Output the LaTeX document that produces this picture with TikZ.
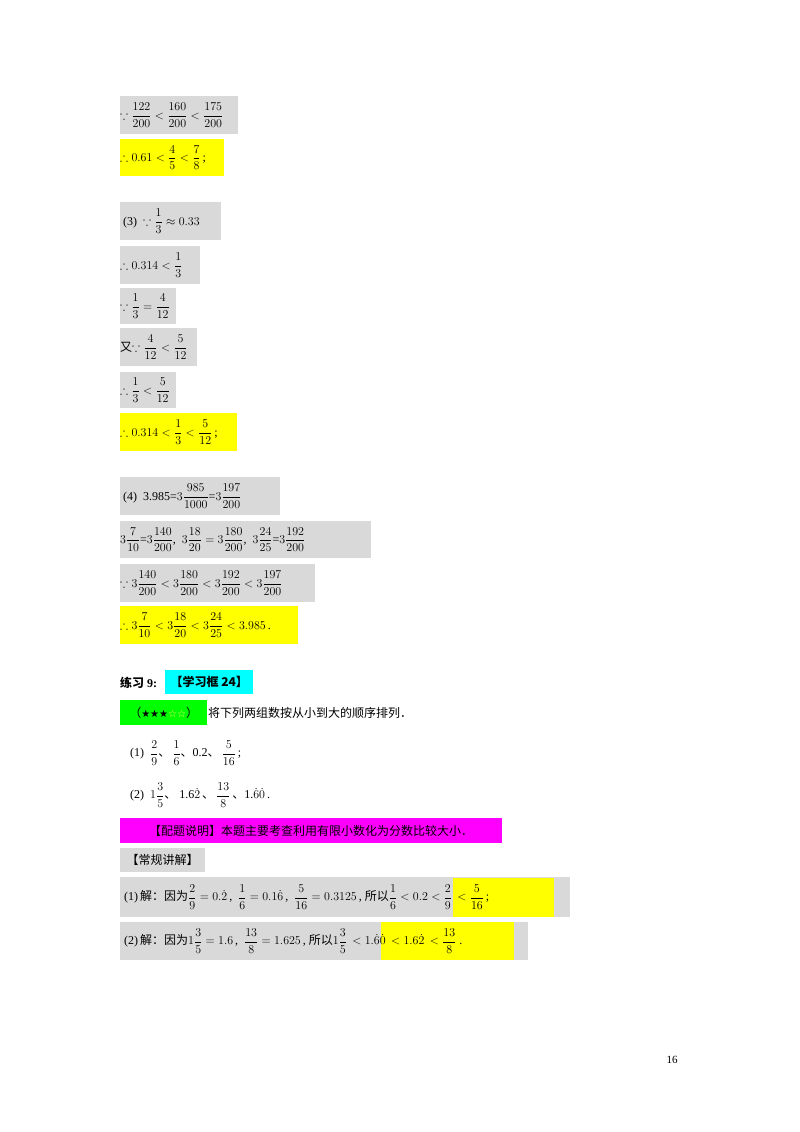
\documentclass[tikz,border=0pt]{standalone}
\usepackage{amsmath,amssymb}
\usepackage{fontspec}
\setmainfont{Liberation Serif}
\newfontfamily\cjk{Noto Sans CJK SC}
\newfontfamily\djsans{DejaVu Sans}
\definecolor{gbox}{RGB}{217,217,217}
\definecolor{ybox}{RGB}{255,255,0}
\definecolor{cbox}{RGB}{0,255,255}
\definecolor{grbox}{RGB}{0,255,0}
\definecolor{mbox}{RGB}{255,0,255}
\newcommand\Wbox[1]{\makebox[#1pt][l]}
\begin{document}
\begin{tikzpicture}[x=1pt,y=-1pt,
  bx/.style={anchor=north west,inner sep=0pt,minimum height=38pt,font=\fontsize{12}{14}\selectfont},
  g/.style={bx,fill=gbox},yl/.style={bx,fill=ybox}]
\useasboundingbox (0,0) rectangle (800,1132);
\node[g] (r1) at (120,96) {\Wbox{118}{$\because\dfrac{122}{200}<\dfrac{160}{200}<\dfrac{175}{200}$}};
\node[yl,minimum height=37pt] (r2) at (120,139) {\Wbox{104}{$\therefore 0.61<\dfrac{4}{5}<\dfrac{7}{8}$\,;}};
\node[g] (r3) at (120,202) {\Wbox{101}{\ (3)\ \ $\because\dfrac{1}{3}\approx 0.33$}};
\node[g] (r4) at (120,246) {\Wbox{80}{$\therefore 0.314<\dfrac{1}{3}$}};
\node[g,minimum height=36pt] (r5) at (120,288) {\Wbox{56}{$\because\dfrac{1}{3}=\dfrac{4}{12}$}};
\node[g] (r6) at (120,328) {\Wbox{77}{{\cjk 又}$\because\dfrac{4}{12}<\dfrac{5}{12}$}};
\node[g,minimum height=36pt] (r7) at (120,372) {\Wbox{56}{$\therefore\dfrac{1}{3}<\dfrac{5}{12}$}};
\node[yl] (r8) at (120,413) {\Wbox{117}{$\therefore 0.314<\dfrac{1}{3}<\dfrac{5}{12}$\,;}};
\node[g] (r9) at (120,477) {\Wbox{160}{\ (4)\ \ 3.985=$3\dfrac{985}{1000}$=$3\dfrac{197}{200}$}};
\node[g,minimum height=37pt] (r10) at (120,521) {\Wbox{251}{$3\dfrac{7}{10}$=$3\dfrac{140}{200}$,\ \ $3\dfrac{18}{20}=3\dfrac{180}{200}$,\ \ $3\dfrac{24}{25}$=$3\dfrac{192}{200}$}};
\node[g] (r11) at (120,564) {\Wbox{195}{$\because 3\dfrac{140}{200}<3\dfrac{180}{200}<3\dfrac{192}{200}<3\dfrac{197}{200}$}};
\node[yl] (r12) at (120,606) {\Wbox{178}{$\therefore 3\dfrac{7}{10}<3\dfrac{18}{20}<3\dfrac{24}{25}<3.985$\,.}};
\node[anchor=west,inner sep=0pt,font=\fontsize{12}{14}\selectfont\bfseries] (t1) at (120,683) {{\cjk\bfseries 练习} 9:};
\node[anchor=north west,inner sep=0pt,fill=cbox,minimum width=88pt,minimum height=24pt,font=\cjk\bfseries\fontsize{12}{14}\selectfont] (t2) at (165,670) {【学习框 24】};
\node[anchor=north west,inner sep=0pt,fill=grbox,minimum width=87pt,minimum height=25pt,font=\fontsize{12}{14}\selectfont] (t3) at (120,700) {{\cjk（}{\djsans\fontsize{10}{12}\selectfont ★★★\textcolor{yellow!60!white}{☆☆}}{\cjk）}};
\node[anchor=west,inner sep=0pt,font=\cjk\fontsize{12}{14}\selectfont] (t4) at (208,713) {将下列两组数按从小到大的顺序排列．};
\node[anchor=west,inner sep=0pt,font=\fontsize{12}{14}\selectfont] (q1) at (130,753) {(1)\ \ $\dfrac{2}{9}${\cjk 、}\,$\dfrac{1}{6}${\cjk 、}0.2{\cjk 、}\,$\dfrac{5}{16}$\,;};
\node[anchor=west,inner sep=0pt,font=\fontsize{12}{14}\selectfont] (q2) at (130,795) {(2)\ \ $1\dfrac{3}{5}${\cjk 、}\ 1.6$\dot{2}$\,{\cjk 、}\,$\dfrac{13}{8}$\,{\cjk 、}1.$\dot{6}\dot{0}$\,.};
\node[anchor=north west,inner sep=0pt,fill=mbox,minimum width=382pt,minimum height=25pt,font=\cjk\fontsize{12}{14}\selectfont] (m1) at (120,818) {【配题说明】本题主要考查利用有限小数化为分数比较大小．};
\node[anchor=north west,inner sep=0pt,fill=gbox,minimum width=85pt,minimum height=24pt,font=\cjk\fontsize{12}{14}\selectfont] (m2) at (120,848) {【常规讲解】};
\fill[gbox] (120,877) rectangle (570,917);
\fill[ybox] (453,878) rectangle (554,917);
\node[anchor=west,inner sep=0pt,font=\fontsize{12}{14}\selectfont] (s1) at (122,897) {\,(1)\,{\cjk 解：因为}$\dfrac{2}{9}=0.\dot{2}$\,,\ \ $\dfrac{1}{6}=0.1\dot{6}$\,,\ \ $\dfrac{5}{16}=0.3125$\,,\ {\cjk 所以}$\dfrac{1}{6}<0.2<\dfrac{2}{9}\,<\dfrac{5}{16}$\,;};
\fill[gbox] (120,922) rectangle (528,960);
\fill[ybox] (381,922) rectangle (514,960);
\node[anchor=west,inner sep=0pt,font=\fontsize{12}{14}\selectfont] (s2) at (122,941) {\,(2)\,{\cjk 解：因为}$1\dfrac{3}{5}=1.6$\,,\ \ $\dfrac{13}{8}=1.625$\,,\ {\cjk 所以}$1\dfrac{3}{5}\,<1.\dot{6}\dot{0}\,<1.6\dot{2}\,<\dfrac{13}{8}$\ .};
\node[inner sep=0pt,font=\fontsize{11}{13}\selectfont] (pg) at (672,1060) {16};
\end{tikzpicture}
\end{document}
